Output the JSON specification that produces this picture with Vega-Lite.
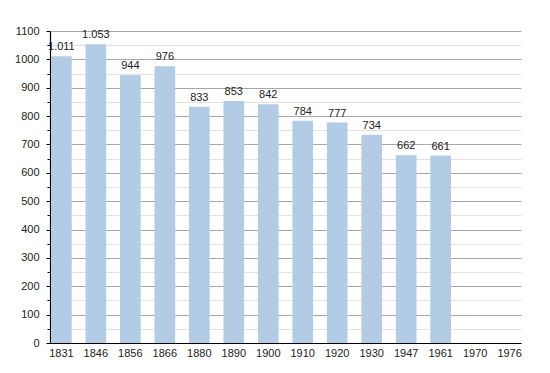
{
  "$schema": "https://vega.github.io/schema/vega-lite/v6.json",
  "width": 471,
  "height": 312,
  "autosize": "none",
  "padding": {"left": 50, "top": 31, "right": 29, "bottom": 30},
  "background": "white",
  "data": {
    "values": [
      {"year": "1831", "pop": 1011},
      {"year": "1846", "pop": 1053},
      {"year": "1856", "pop": 944},
      {"year": "1866", "pop": 976},
      {"year": "1880", "pop": 833},
      {"year": "1890", "pop": 853},
      {"year": "1900", "pop": 842},
      {"year": "1910", "pop": 784},
      {"year": "1920", "pop": 777},
      {"year": "1930", "pop": 734},
      {"year": "1947", "pop": 662},
      {"year": "1961", "pop": 661},
      {"year": "1970", "pop": null},
      {"year": "1976", "pop": null}
    ]
  },
  "encoding": {
    "x": {
      "field": "year",
      "type": "nominal",
      "sort": null,
      "scale": {
        "domain": ["1831","1846","1856","1866","1880","1890","1900","1910","1920","1930","1947","1961","1970","1976"],
        "paddingInner": 0.4,
        "paddingOuter": 0.03
      },
      "axis": {
        "title": null,
        "labelAngle": 0,
        "ticks": false,
        "labelPadding": 4,
        "domainColor": "#000000",
        "domainWidth": 1.2,
        "labelFont": "Liberation Sans",
        "labelFontSize": 11,
        "labelColor": "#222222"
      }
    }
  },
  "layer": [
    {
      "mark": {"type": "bar", "color": "#b3cce6"},
      "encoding": {
        "y": {
          "field": "pop",
          "type": "quantitative",
          "scale": {"domain": [0, 1100], "nice": false, "zero": true},
          "axis": {
            "title": null,
            "orient": "left",
            "values": [0,100,200,300,400,500,600,700,800,900,1000,1100],
            "format": "d",
            "grid": true,
            "gridColor": "#a8a8a8",
            "gridWidth": 1,
            "domainColor": "#000000",
            "domainWidth": 1.2,
            "tickColor": "#000000",
            "tickSize": 4,
            "labelPadding": 7,
            "labelFont": "Liberation Sans",
            "labelFontSize": 11,
            "labelColor": "#222222",
            "zindex": 0
          }
        }
      }
    },
    {
      "mark": {"type": "text", "baseline": "bottom", "dy": -4, "font": "Liberation Sans", "fontSize": 11, "color": "#222222"},
      "encoding": {
        "y": {
          "field": "pop",
          "type": "quantitative",
          "axis": {
            "title": null,
            "orient": "left",
            "values": [50,150,250,350,450,550,650,750,850,950,1050],
            "labels": false,
            "grid": true,
            "gridColor": "#e2e2e2",
            "gridWidth": 1,
            "domain": false,
            "tickColor": "#000000",
            "tickSize": 3,
            "zindex": 0
          }
        },
        "text": {"field": "pop", "type": "quantitative", "format": ",d"}
      }
    }
  ],
  "resolve": {"axis": {"y": "independent"}},
  "config": {
    "view": {"stroke": null},
    "locale": {
      "number": {"decimal": ",", "thousands": ".", "grouping": [3], "currency": ["", " €"]}
    }
  }
}
